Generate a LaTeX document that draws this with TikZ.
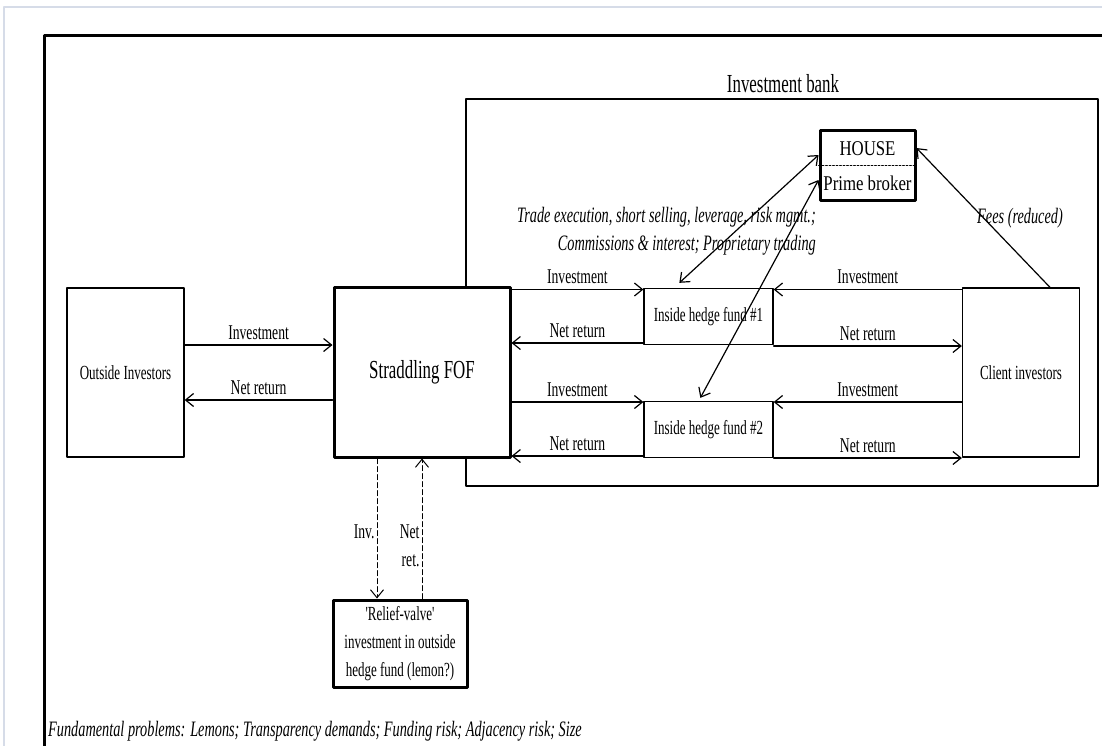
\documentclass[tikz,border=0pt]{standalone}
\usepackage{fontspec}
\newfontfamily\condfont[FakeStretch=0.65]{Liberation Serif}
\newfontfamily\condwidefont[FakeStretch=0.8]{Liberation Serif}
\usetikzlibrary{arrows.meta,calc}
\definecolor{edgegray}{RGB}{214,220,232}

\begin{document}
\begin{tikzpicture}[line cap=round,line join=round,x=1pt,y=-1pt,
		every node/.style={font=\condfont\fontsize{21}{28}\selectfont,inner sep=0pt},
		thinbox/.style={draw,line width=1.3pt,fill=white,minimum width=#1},
		thickbox/.style={draw,line width=3pt,fill=white},
		arr/.style={-{Straight Barb[length=8pt,width=13pt]},line width=1.2pt},
		dblarr/.style={{Straight Barb[length=8pt,width=13pt]}-{Straight Barb[length=8pt,width=13pt]},line width=1.2pt},
		lbl/.style={midway,above=5pt},
		boxtext/.style={font=\condfont\fontsize{20}{28}\selectfont},
		slanted/.style={font=\condfont\itshape\fontsize{22}{28}\selectfont}]
	\useasboundingbox (0,0) rectangle (1102,745);
	\clip (0,0) rectangle (1102,745);
	\draw [line width=1.5pt,color=edgegray] (4,750) -- (4,7) -- (1110,7);
	%% outer frame and the bank
	\draw [line width=3pt] (44,760) -- (44,35) -- (1120,35);
	\draw [line width=2.5pt] (466,99) rectangle (1098,486);
	\node (banklbl) at (783,84) {\fontsize{26}{30}\selectfont Investment bank};
	%% boxes
	\node [thinbox=117pt,minimum height=169pt,boxtext] (outside) at (125.5,372.5) {Outside Investors};
	\node [thickbox,minimum width=176pt,minimum height=170pt,font=\condfont\fontsize{26}{30}\selectfont] (fof) at (422,372) {Straddling FOF};
	\node [thinbox=129pt,minimum height=56pt,boxtext] (hfa) at (708.5,316.5) {Inside hedge fund \#1};
	\node [thinbox=129pt,minimum height=56pt,boxtext] (hfb) at (708.5,429.5) {Inside hedge fund \#2};
	\node [thinbox=117pt,minimum height=169pt,boxtext] (client) at (1021,372.5) {Client investors};
	\node [thickbox,minimum width=95pt,minimum height=70pt] (house) at (867.5,165) {};
	\draw [line width=0.8pt,dash pattern=on 2pt off 1.5pt] (house.west) -- (house.east);
	\node [font=\condwidefont\fontsize{21}{28}\selectfont] (houselbl) at (867.5,149) {HOUSE};
	\node [font=\condwidefont\fontsize{21}{28}\selectfont] (primelbl) at (867.5,183) {Prime broker};
	\node [thickbox,minimum width=134pt,minimum height=87pt,align=center,boxtext] (relief) at (400,643.5) {'Relief-valve'\\investment in outside\\hedge fund (lemon?)};
	%% outside investors and the FOF
	\draw [arr] ([yshift=27.5pt]outside.east) -- ([yshift=27.5pt]outside.east -| fof.west) node[lbl] {Investment};
	\draw [arr] ([yshift=-27.5pt]outside.east -| fof.west) -- ([yshift=-27.5pt]outside.east) node[lbl] {Net return};
	%% FOF and inside funds
	\draw [arr] ([yshift=27pt]hfa.west -| fof.east) -- ([yshift=27pt]hfa.west) node[lbl] {Investment};
	\draw [arr] ([yshift=-26.5pt]hfa.west) -- ([yshift=-26.5pt]hfa.west -| fof.east) node[lbl] {Net return};
	\draw [arr] ([yshift=27.5pt]hfb.west -| fof.east) -- ([yshift=27.5pt]hfb.west) node[lbl] {Investment};
	\draw [arr] ([yshift=-26.5pt]hfb.west) -- ([yshift=-26.5pt]hfb.west -| fof.east) node[lbl] {Net return};
	%% client investors and inside funds
	\draw [arr] ([yshift=27pt]hfa.east -| client.west) -- ([yshift=27pt]hfa.east) node[lbl] {Investment};
	\draw [arr] ([yshift=-29.5pt]hfa.east) -- ([yshift=-29.5pt]hfa.east -| client.west) node[lbl] {Net return};
	\draw [arr] ([yshift=27.5pt]hfb.east -| client.west) -- ([yshift=27.5pt]hfb.east) node[lbl] {Investment};
	\draw [arr] ([yshift=-28.5pt]hfb.east) -- ([yshift=-28.5pt]hfb.east -| client.west) node[lbl] {Net return};
	%% prime broker links
	\node [anchor=east,align=right,slanted] (tradelbl) at (816,231) {Trade execution, short selling, leverage, risk mgmt.;\\Commissions \& interest; Proprietary trading};
	\node [slanted] (feeslbl) at (1020,218) {Fees (reduced)};
	\draw [dblarr] ([xshift=36pt,yshift=5pt]hfa.north west) -- ([yshift=10pt]house.west);
	\draw [dblarr] ([xshift=57pt,yshift=3pt]hfb.north west) -- ([yshift=-15pt]house.west);
	\draw [arr] ([xshift=29pt]client.north) -- ([yshift=17pt]house.east);
	%% relief valve
	\draw [arr,line width=1pt,dash pattern=on 5pt off 3pt] ([xshift=-45pt]fof.south) -- ([xshift=-45pt]fof.south |- relief.north) node[pos=0.52,left=2pt] {Inv.};
	\draw [arr,line width=1pt,dash pattern=on 5pt off 3pt] (relief.north -| fof.south) -- (fof.south) node[pos=0.38,left=2pt,align=right] {Net\\ret.};
	\node [anchor=west,slanted] (problems) at (48,731) {Fundamental problems: Lemons; Transparency demands; Funding risk; Adjacency risk; Size};
\end{tikzpicture}
\end{document}
